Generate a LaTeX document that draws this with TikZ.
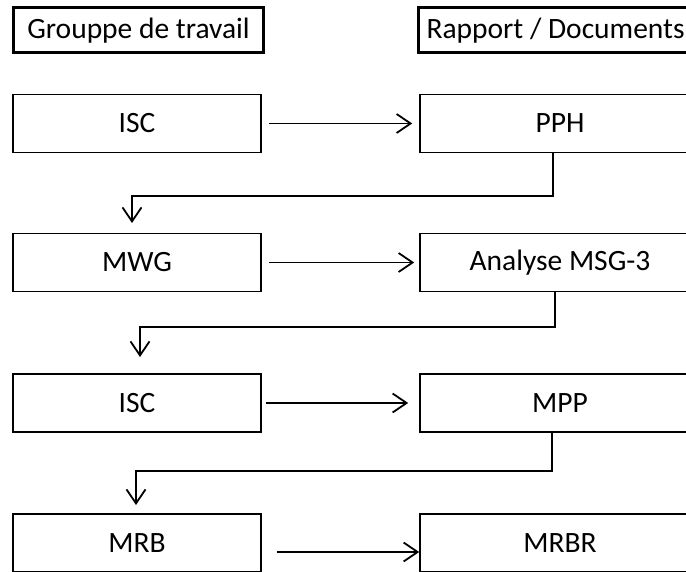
\documentclass[tikz,border=0pt]{standalone}
\usepackage{fontspec}
\setmainfont{Carlito}
\usetikzlibrary{arrows.meta}
\tikzset{>={Straight Barb[length=14pt,width=19pt]}}
\tikzset{
  head/.style={draw, line width=3pt, minimum height=45pt, inner xsep=8pt,
    anchor=west, font=\fontsize{29.5}{35}\selectfont},
  lbox/.style={draw, line width=1.6pt, minimum height=58pt, minimum width=248pt,
    font=\fontsize{29.5}{35}\selectfont},
  rbox/.style={lbox, minimum width=280pt},
  arr/.style={->, line width=1.8pt}
}

\begin{document}
\begin{tikzpicture}[x=1pt, y=-1pt]
    \clip (0,0) rectangle (686,572);
    \node[head, minimum width=250pt] (grp) at (12,30.5) {Grouppe de travail};
    \node[head] (rap) at (417,30.5) {Rapport / Documents};
    \node[lbox] (isc1) at (137,123.5) {ISC};
    \node[rbox] (pph) at (560,123.5) {PPH};
    \node[lbox] (mwg) at (137,262.5) {MWG};
    \node[rbox] (msg) at (560,262.5) {Analyse MSG-3};
    \node[lbox] (isc2) at (137,403) {ISC};
    \node[rbox] (mpp) at (560,403) {MPP};
    \node[lbox] (mrb) at (137,543) {MRB};
    \node[rbox] (mrbr) at (560,543) {MRBR};
    \coordinate (d1) at (132,223);
    \coordinate (d2) at (140,357);
    \coordinate (d3) at (136,505);
    \draw[arr, shorten <=7pt, shorten >=7pt] (isc1) -- (pph);
    \draw[arr, shorten <=7pt, shorten >=5pt] (mwg) -- (msg);
    \draw[arr, shorten <=4pt, shorten >=11pt] (isc2) -- (mpp);
    \draw[arr, shorten <=15pt] ([yshift=-9pt]mrb.east) -- ([yshift=-9pt]mrbr.west);
    \draw[arr] ([xshift=-7pt]pph.south) -- ++(0,43) -| (d1);
    \draw[arr] ([xshift=-5pt]msg.south) -- ++(0,35) -| (d2);
    \draw[arr] ([xshift=-8pt]mpp.south) -- ++(0,38) -| (d3);
\end{tikzpicture}
\end{document}
